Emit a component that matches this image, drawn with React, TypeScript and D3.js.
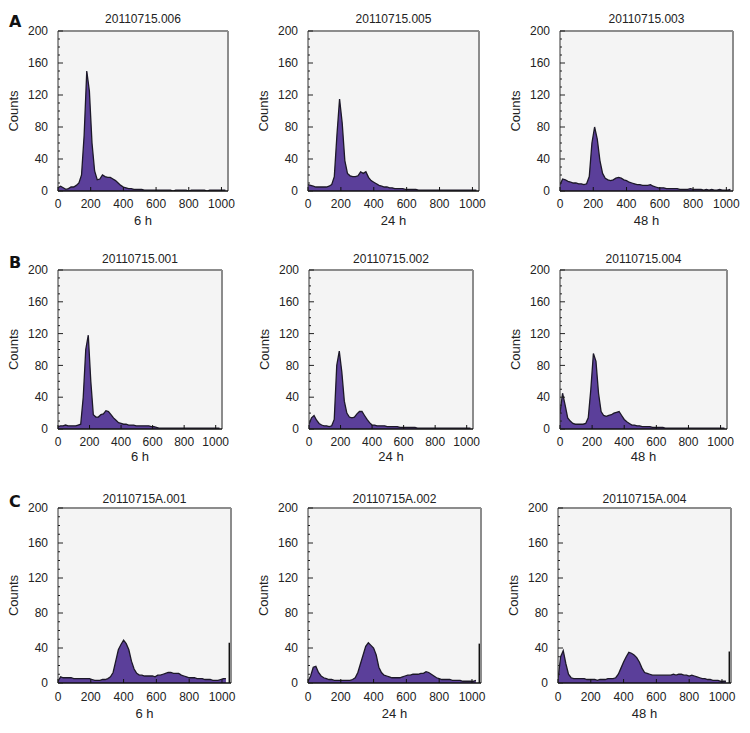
import React from 'react';
import * as d3 from 'd3';

// ---- categories / labels ----
const rowLetters = ['A', 'B', 'C'];
const panelTitles = [
  ['20110715.006', '20110715.005', '20110715.003'],
  ['20110715.001', '20110715.002', '20110715.004'],
  ['20110715A.001', '20110715A.002', '20110715A.004'],
];
const timeLabels = ['6 h', '24 h', '48 h'];
const yTicks = [0, 40, 80, 120, 160, 200];
const xTicks = [0, 200, 400, 600, 800, 1000];
const channelStep = 16; // counts sampled every 16 channels (0..1024)

// ---- series values (counts at channels 0,16,32,...,1024) ----
const countsA1 = [4, 6, 4, 2, 3, 5, 5, 7, 10, 20, 70, 150, 125, 60, 25, 14, 15, 20, 18, 17, 17, 15, 13, 10, 7, 5, 4, 3, 3, 2, 2, 2, 2, 1, 1, 1, 1, 1, 1, 1, 1, 1, 1, 1, 0, 1, 1, 1, 1, 1, 0, 1, 1, 1, 1, 1, 1, 0, 1, 1, 1, 1, 1, 1, 1];
const countsA2 = [8, 7, 6, 5, 5, 5, 5, 5, 6, 8, 18, 70, 115, 85, 38, 22, 19, 18, 18, 19, 24, 22, 24, 17, 13, 11, 9, 7, 6, 5, 5, 4, 4, 3, 3, 3, 3, 2, 2, 2, 2, 2, 1, 1, 1, 1, 1, 1, 1, 1, 1, 1, 1, 1, 1, 1, 1, 1, 1, 1, 1, 1, 1, 1, 1];
const countsA3 = [8, 15, 14, 12, 11, 10, 10, 9, 9, 8, 9, 18, 60, 80, 65, 38, 22, 16, 14, 13, 14, 16, 17, 16, 14, 13, 11, 10, 9, 8, 8, 7, 7, 7, 8, 6, 5, 4, 4, 4, 3, 3, 3, 3, 3, 2, 2, 2, 2, 3, 2, 2, 2, 2, 1, 2, 1, 2, 1, 1, 2, 1, 1, 1, 2];
const countsB1 = [3, 4, 4, 5, 4, 4, 4, 4, 5, 6, 40, 100, 118, 60, 18, 15, 15, 18, 19, 23, 22, 18, 14, 11, 8, 7, 6, 6, 5, 5, 5, 4, 4, 4, 4, 4, 4, 3, 3, 2, 1, 1, 1, 1, 1, 1, 1, 1, 1, 1, 1, 1, 1, 1, 1, 1, 1, 1, 1, 1, 1, 1, 1, 1, 1];
const countsB2 = [6, 14, 17, 11, 7, 5, 4, 4, 3, 4, 12, 80, 98, 72, 35, 20, 15, 14, 15, 19, 22, 22, 17, 12, 8, 5, 5, 4, 4, 4, 4, 3, 3, 3, 3, 3, 2, 2, 2, 2, 2, 2, 2, 1, 1, 1, 1, 1, 1, 1, 1, 1, 1, 1, 1, 1, 1, 1, 1, 1, 1, 1, 1, 1, 1];
const countsB3 = [20, 45, 30, 14, 10, 7, 6, 6, 6, 6, 7, 14, 50, 95, 85, 45, 22, 17, 16, 17, 18, 20, 21, 22, 17, 12, 9, 7, 5, 5, 4, 4, 3, 3, 3, 3, 2, 2, 2, 2, 2, 1, 1, 1, 1, 1, 1, 1, 1, 1, 1, 1, 1, 1, 1, 1, 1, 1, 1, 1, 1, 1, 1, 1, 1];
const countsC1 = [2, 7, 6, 6, 6, 6, 5, 5, 5, 5, 5, 5, 5, 4, 3, 3, 3, 4, 4, 5, 7, 12, 25, 38, 44, 49, 45, 38, 25, 16, 11, 9, 9, 8, 8, 8, 8, 7, 9, 9, 10, 11, 12, 12, 11, 11, 11, 9, 8, 7, 6, 6, 6, 5, 5, 5, 4, 4, 4, 3, 3, 3, 4, 5, 5];
const countsC2 = [2, 8, 18, 19, 12, 8, 6, 5, 4, 4, 3, 3, 3, 3, 3, 3, 3, 4, 6, 12, 22, 32, 42, 46, 43, 40, 32, 18, 12, 9, 8, 7, 6, 6, 6, 6, 7, 8, 9, 9, 10, 10, 10, 11, 11, 13, 12, 10, 8, 6, 5, 4, 4, 4, 4, 3, 3, 3, 3, 2, 2, 2, 2, 2, 3];
const countsC3 = [4, 30, 37, 22, 10, 6, 5, 5, 5, 5, 5, 4, 4, 4, 4, 3, 4, 4, 4, 5, 5, 5, 6, 10, 17, 24, 30, 35, 34, 32, 29, 24, 17, 12, 11, 10, 9, 9, 9, 9, 9, 9, 9, 9, 10, 9, 10, 10, 9, 9, 8, 9, 8, 7, 6, 5, 5, 4, 4, 3, 3, 3, 2, 2, 2];
const edgeSpikeC = [46, 45, 36]; // pile-up in last channel, row C
const edgeSpikeChannel = 1045;

const seriesRows = [
  [countsA1, countsA2, countsA3],
  [countsB1, countsB2, countsB3],
  [countsC1, countsC2, countsC3],
];

// ---- layout (positions only) ----
const rowFrames = [
  { top: 31, bottom: 191, titleY: 23, tickY: 208, labelY: 225, letterY: 27, xMax: 1040 },
  { top: 270, bottom: 429, titleY: 263, tickY: 446, labelY: 461, letterY: 268, xMax: 1040 },
  { top: 508, bottom: 683, titleY: 503, tickY: 701, labelY: 718, letterY: 507, xMax: 1055 },
];
const colFrames = [
  [[58, 228], [308, 479], [560, 733]],
  [[58, 222], [309, 473], [560, 727]],
  [[58, 231], [308, 481], [558, 731]],
];

const FONT = '"Liberation Sans", Arial, sans-serif';
const FILL = '#5b3f9a';

function Panel({ r, c }: { r: number; c: number }) {
  const rf = rowFrames[r];
  const [left, right] = colFrames[r][c];
  const data = seriesRows[r][c];
  const x = d3.scaleLinear().domain([0, rf.xMax]).range([left, right]);
  const y = d3.scaleLinear().domain([0, 200]).range([rf.bottom, rf.top]);
  const pts = data.map((v, i) => [i * channelStep, v] as [number, number]);
  const area = d3.area<[number, number]>().x(d => x(d[0])).y0(y(0)).y1(d => y(d[1])).curve(d3.curveLinear);
  const line = d3.line<[number, number]>().x(d => x(d[0])).y(d => y(d[1])).curve(d3.curveLinear);
  const minor = d3.range(0, 201, 10);
  const clipId = `clip-${r}-${c}`;
  const cx = (left + right) / 2;
  return (
    <g>
      <defs>
        <clipPath id={clipId}>
          <rect x={left} y={rf.top} width={right - left} height={rf.bottom - rf.top} />
        </clipPath>
      </defs>
      <rect x={left} y={rf.top} width={right - left} height={rf.bottom - rf.top} fill="#f4f4f4" />
      <g clipPath={`url(#${clipId})`}>
        <path d={area(pts) || ''} fill={FILL} />
        <path d={line(pts) || ''} fill="none" stroke="#1c1828" strokeWidth={1.3} />
        {r === 2 && (
          <line x1={x(edgeSpikeChannel)} x2={x(edgeSpikeChannel)} y1={y(0)} y2={y(edgeSpikeC[c])} stroke="#111" strokeWidth={1.6} />
        )}
      </g>
      {/* frame: top & right grey, bottom black, left dark */}
      <line x1={left} x2={right} y1={rf.top} y2={rf.top} stroke="#8c8c8c" strokeWidth={2} />
      <line x1={right} x2={right} y1={rf.top} y2={rf.bottom} stroke="#8c8c8c" strokeWidth={2} />
      <line x1={left} x2={right} y1={rf.bottom} y2={rf.bottom} stroke="#111" strokeWidth={1.5} />
      <line x1={left} x2={left} y1={rf.top} y2={rf.bottom} stroke="#333" strokeWidth={1} />
      {minor.map(v => (
        <line key={'m' + v} x1={left} x2={left + (v % 40 === 0 ? 5 : 2)} y1={y(v)} y2={y(v)} stroke="#222" strokeWidth={1} />
      ))}
      {xTicks.map(v => (
        <line key={'xt' + v} x1={x(v)} x2={x(v)} y1={rf.bottom} y2={rf.bottom - 4} stroke="#111" strokeWidth={1} />
      ))}
      {yTicks.map(v => (
        <text key={'yl' + v} x={left - 10} y={y(v)} dy="0.35em" textAnchor="end" fontFamily={FONT} fontSize={12} fill="#222">{v}</text>
      ))}
      {xTicks.map(v => (
        <text key={'xl' + v} x={x(v)} y={rf.tickY} textAnchor="middle" fontFamily={FONT} fontSize={12} fill="#222">{v}</text>
      ))}
      <text x={cx} y={rf.titleY} textAnchor="middle" fontFamily={FONT} fontSize={12} fill="#222">{panelTitles[r][c]}</text>
      <text x={cx} y={rf.labelY} textAnchor="middle" fontFamily={FONT} fontSize={13} fill="#222">{timeLabels[c]}</text>
      <text transform={`translate(${left - 40},${(rf.top + rf.bottom) / 2}) rotate(-90)`} textAnchor="middle" fontFamily={FONT} fontSize={13} fill="#222">Counts</text>
    </g>
  );
}

export default function App() {
  return (
    <svg width={750} height={733} style={{ position: 'absolute', left: 0, top: 0, background: '#fff' }}>
      <rect width={750} height={733} fill="#fff" />
      {rowLetters.map((L, r) => (
        <text key={L} x={9} y={rowFrames[r].letterY} fontFamily={'"DejaVu Sans", Verdana, sans-serif'} fontWeight="bold" fontSize={16} fill="#111">{L}</text>
      ))}
      {rowLetters.map((_, r) => [0, 1, 2].map(c => <Panel key={`${r}-${c}`} r={r} c={c} />))}
    </svg>
  );
}
